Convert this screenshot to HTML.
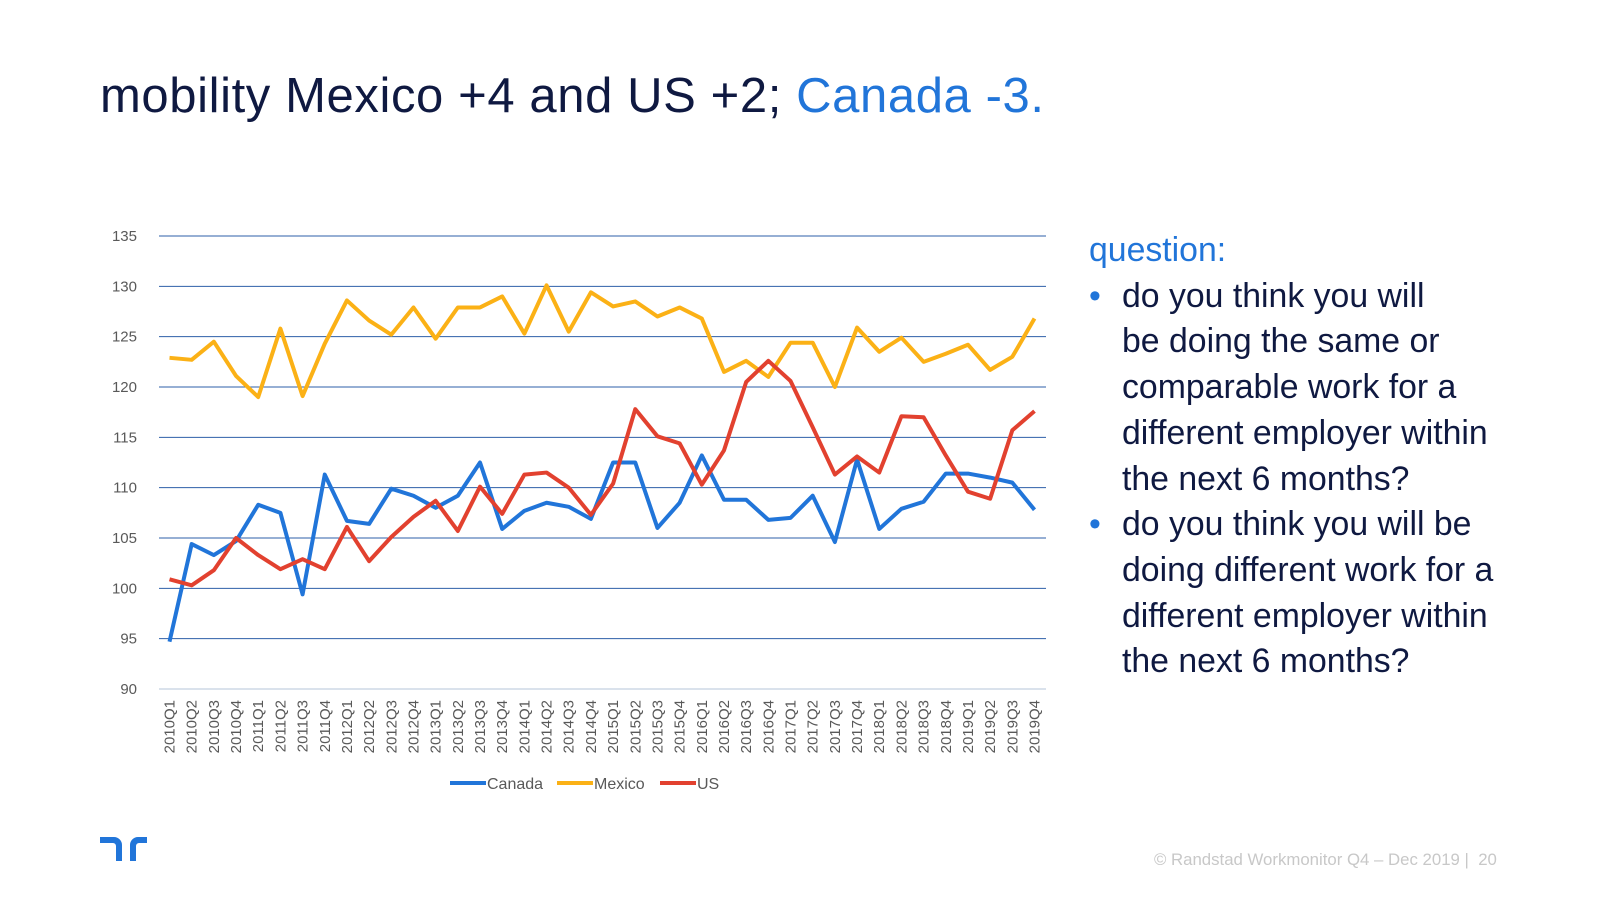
<!DOCTYPE html>
<html><head><meta charset="utf-8"><style>
body{margin:0;width:1600px;height:900px;background:#fff;font-family:"Liberation Sans","DejaVu Sans",sans-serif;overflow:hidden;position:relative}
.title{position:absolute;left:100px;top:68px;font-size:49px;letter-spacing:0.6px;color:#0f1941;white-space:nowrap}
.title span{color:#2175d9}
.side{position:absolute;left:1089px;top:228px;font-size:33.8px;color:#0f1941;line-height:45.7px}
.side .q{color:#2175d9}
.side ul{margin:0;padding:0;list-style:none}
.side li{position:relative;padding-left:33px}
.side li:before{content:"•";color:#2175d9;position:absolute;left:0}
.foot{position:absolute;left:1154px;top:850px;font-size:16.8px;color:#c8c8c8}
</style></head><body>
<div class="title">mobility Mexico +4 and US +2; <span>Canada -3.</span></div>
<svg id="chart" width="1600" height="900" style="position:absolute;left:0;top:0"></svg>
<div class="side">
<div class="q">question:</div>
<ul><li>do you think you will<br>be doing the same or<br>comparable work for a<br>different employer within<br>the next 6 months?</li>
<li>do you think you will be<br>doing different work for a<br>different employer within<br>the next 6 months?</li></ul></div>
<svg style="position:absolute;left:100px;top:837px" width="48" height="26"><path d="M0 0h14a8 8 0 0 1 8 8v16h-6V9a3 3 0 0 0-3-3H0z M26 0h21v6h-8a3 3 0 0 0-3 3v15h-6V8a8 8 0 0 1 8-8z" fill="#2175d9"/></svg>
<div class="foot">© Randstad Workmonitor Q4 – Dec 2019 |&nbsp; 20</div>
<script>
const quarters=[];for(let y=2010;y<=2019;y++)for(let q=1;q<=4;q++)quarters.push(y+"Q"+q);
const yTicks=[90,95,100,105,110,115,120,125,130,135];
const canada=[94.7,104.4,103.3,104.7,108.3,107.5,99.4,111.3,106.7,106.4,109.9,109.2,108,109.2,112.5,105.9,107.7,108.5,108.1,106.9,112.5,112.5,106,108.5,113.2,108.8,108.8,106.8,107,109.2,104.6,112.8,105.9,107.9,108.6,111.4,111.4,111,110.5,107.8];
const mexico=[122.9,122.7,124.5,121.1,119,125.8,119.1,124.3,128.6,126.6,125.2,127.9,124.8,127.9,127.9,129,125.3,130.1,125.5,129.4,128,128.5,127,127.9,126.8,121.5,122.6,121,124.4,124.4,120,125.9,123.5,124.9,122.5,123.3,124.2,121.7,123,126.8];
const us=[100.9,100.3,101.8,105,103.3,101.9,102.9,101.9,106.1,102.7,105.1,107.1,108.7,105.7,110.1,107.4,111.3,111.5,110,107.3,110.4,117.8,115.1,114.4,110.3,113.7,120.5,122.6,120.6,116,111.3,113.1,111.5,117.1,117,113.2,109.6,108.9,115.7,117.6];
const seriesNames=["Canada","Mexico","US"];
const svg=document.getElementById('chart');const NS="http://www.w3.org/2000/svg";
const X0=169.5,X1=1034.5,Y0=689,Y1=236,L=159,R=1046;
const xs=i=>X0+(X1-X0)*i/(quarters.length-1);
const ys=v=>Y0-(v-90)/(135-90)*(Y0-Y1);
function mk(t,a){const e=document.createElementNS(NS,t);for(const k in a)e.setAttribute(k,a[k]);svg.appendChild(e);return e;}
yTicks.forEach(v=>{
 const l=mk('line',{x1:L,x2:R,y1:ys(v),y2:ys(v),stroke:v===90?'#b4c4da':'#2e5fa8','stroke-width':1});
 
 
 const t=mk('text',{x:137,y:ys(v)+5,'text-anchor':'end','font-size':15,fill:'#595959','font-family':'Liberation Sans, sans-serif'});t.textContent=v;
 
 
});
quarters.forEach((q,i)=>{
 const t=mk('text',{transform:`translate(${xs(i)+5},${700}) rotate(-90)`,'text-anchor':'end','font-size':15,fill:'#595959','font-family':'Liberation Sans, sans-serif'});t.textContent=q;
 
 
});
const colors=['#2175d9','#fbb116','#e2412f'];
[canada,mexico,us].forEach((d,s)=>{
 const p=mk('polyline',{points:d.map((v,i)=>xs(i)+','+ys(v)).join(' '),fill:'none',stroke:colors[s],'stroke-width':4,'stroke-linejoin':'round'});
 
 
});
const lx=[450,557,660];
seriesNames.forEach((n,s)=>{
 const l=mk('line',{x1:lx[s],x2:lx[s]+36,y1:783,y2:783,stroke:colors[s],'stroke-width':4});
 
 
 const t=mk('text',{x:lx[s]+37,y:789,'font-size':16,fill:'#595959','font-family':'Liberation Sans, sans-serif'});t.textContent=n;
 
 
});
</script>
</body></html>
